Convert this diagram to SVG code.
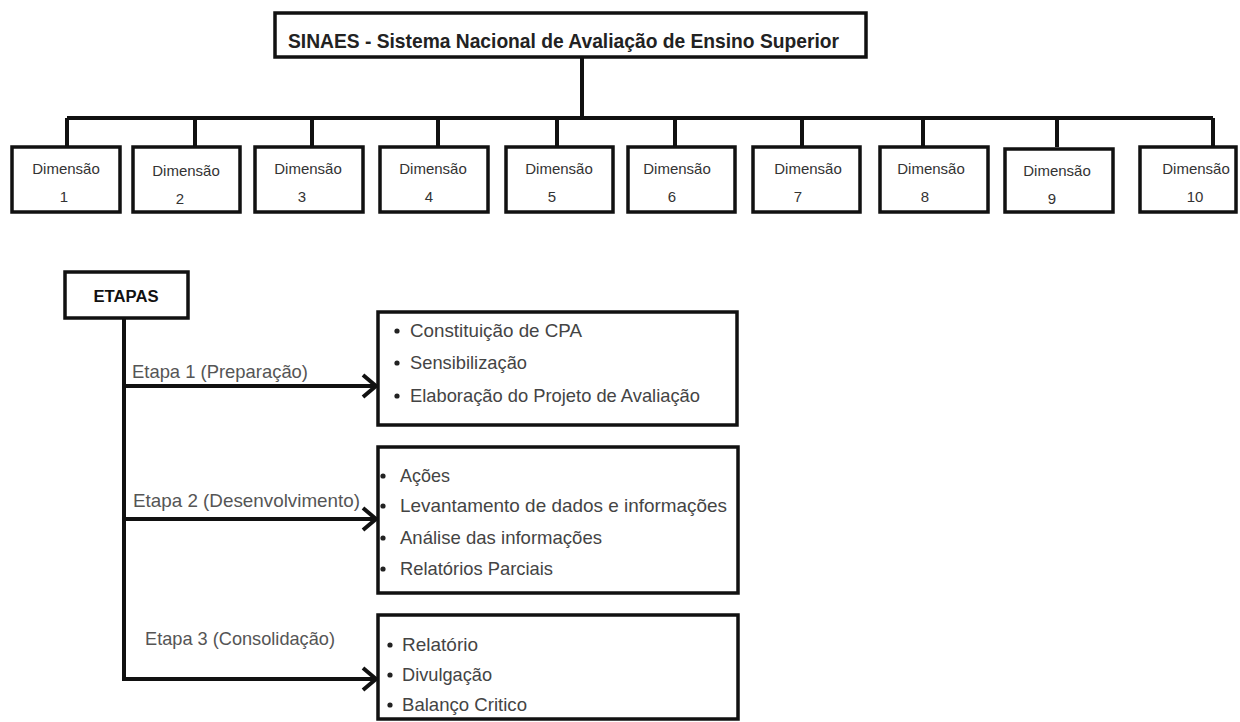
<svg xmlns="http://www.w3.org/2000/svg" width="1240" height="722" viewBox="0 0 1240 722">
<style>
.box{fill:#fff;stroke:#111;stroke-width:3.5}
.con{fill:none;stroke:#111;stroke-width:4}
.title{font-family:"Liberation Sans",Arial,sans-serif;font-size:21px;font-weight:bold;fill:#222}
.dim{font-family:"Liberation Sans",Arial,sans-serif;font-size:15px;fill:#333;text-anchor:middle}
.lab{font-family:"Liberation Sans",Arial,sans-serif;font-size:19px;fill:#555}
.bt{font-family:"Liberation Sans",Arial,sans-serif;font-size:19px;fill:#444}
.et{font-family:"Liberation Sans",Arial,sans-serif;font-size:16px;font-weight:bold;fill:#111;text-anchor:middle}
.bul{fill:#222}
</style>
<defs>
<marker id="arr" markerUnits="userSpaceOnUse" markerWidth="20" markerHeight="26" viewBox="0 0 20 26" refX="16" refY="13" orient="auto">
<path d="M3,2 L16,13 L3,24" fill="none" stroke="#111" stroke-width="4" stroke-linejoin="miter"/>
</marker>
</defs>
<rect width="1240" height="722" fill="#fff"/>
<g id="connectors">
<path class="con" d="M582,57 V118 M67,118 H1213 M67,118 V147 M195,118 V147 M312,118 V147 M438,118 V147 M557,118 V147 M675,118 V147 M802,118 V147 M923,118 V147 M1057,118 V147 M1213,118 V147"/>
<path class="con" d="M124,318 V679"/>
<path class="con" d="M122,386 H376" marker-end="url(#arr)"/>
<path class="con" d="M122,519 H376" marker-end="url(#arr)"/>
<path class="con" d="M122,679 H376" marker-end="url(#arr)"/>
<text class="lab" x="132" y="378" textLength="176" lengthAdjust="spacingAndGlyphs">Etapa 1 (Preparação)</text>
<text class="lab" x="133" y="507" textLength="227" lengthAdjust="spacingAndGlyphs">Etapa 2 (Desenvolvimento)</text>
<text class="lab" x="145" y="645" textLength="190" lengthAdjust="spacingAndGlyphs">Etapa 3 (Consolidação)</text>
</g>
<g id="sinaes">
<rect class="box" x="275" y="13" width="591" height="44"/>
<text class="title" x="288" y="48" textLength="551" lengthAdjust="spacingAndGlyphs">SINAES - Sistema Nacional de Avaliação de Ensino Superior</text>
</g>
<g id="dim1"><rect class="box" x="12" y="147" width="108" height="65"/><text class="dim" x="66" y="174">Dimensão</text><text class="dim" x="64" y="202">1</text></g>
<g id="dim2"><rect class="box" x="133" y="147" width="107" height="65"/><text class="dim" x="186" y="176">Dimensão</text><text class="dim" x="180" y="204">2</text></g>
<g id="dim3"><rect class="box" x="255" y="147" width="108" height="65"/><text class="dim" x="308" y="174">Dimensão</text><text class="dim" x="302" y="202">3</text></g>
<g id="dim4"><rect class="box" x="380" y="147" width="108" height="65"/><text class="dim" x="433" y="174">Dimensão</text><text class="dim" x="429" y="202">4</text></g>
<g id="dim5"><rect class="box" x="506" y="147" width="107" height="65"/><text class="dim" x="559" y="174">Dimensão</text><text class="dim" x="552" y="202">5</text></g>
<g id="dim6"><rect class="box" x="628" y="147" width="107" height="65"/><text class="dim" x="677" y="174">Dimensão</text><text class="dim" x="672" y="202">6</text></g>
<g id="dim7"><rect class="box" x="753" y="147" width="107" height="65"/><text class="dim" x="808" y="174">Dimensão</text><text class="dim" x="798" y="202">7</text></g>
<g id="dim8"><rect class="box" x="880" y="147" width="108" height="65"/><text class="dim" x="931" y="174">Dimensão</text><text class="dim" x="925" y="202">8</text></g>
<g id="dim9"><rect class="box" x="1005" y="149" width="108" height="63"/><text class="dim" x="1057" y="176">Dimensão</text><text class="dim" x="1052" y="204">9</text></g>
<g id="dim10"><rect class="box" x="1140" y="147" width="96" height="65"/><text class="dim" x="1196" y="174">Dimensão</text><text class="dim" x="1195" y="202">10</text></g>
<g id="etapas">
<rect class="box" x="65" y="272" width="123" height="46"/>
<text class="et" x="126" y="302" textLength="65" lengthAdjust="spacingAndGlyphs">ETAPAS</text>
</g>
<g id="etapa1">
<rect class="box" x="378" y="312" width="359" height="113"/>
<circle class="bul" cx="397" cy="331" r="2.6"/><circle class="bul" cx="397" cy="363" r="2.6"/><circle class="bul" cx="397" cy="396" r="2.6"/>
<text class="bt" x="410" y="337" textLength="172" lengthAdjust="spacingAndGlyphs">Constituição de CPA</text>
<text class="bt" x="410" y="369" textLength="117" lengthAdjust="spacingAndGlyphs">Sensibilização</text>
<text class="bt" x="410" y="402" textLength="290" lengthAdjust="spacingAndGlyphs">Elaboração do Projeto de Avaliação</text>
</g>
<g id="etapa2">
<rect class="box" x="378" y="447" width="360" height="146"/>
<circle class="bul" cx="383" cy="476" r="2.6"/><circle class="bul" cx="383" cy="506" r="2.6"/><circle class="bul" cx="383" cy="538" r="2.6"/><circle class="bul" cx="383" cy="569" r="2.6"/>
<text class="bt" x="400" y="482" textLength="50" lengthAdjust="spacingAndGlyphs">Ações</text>
<text class="bt" x="400" y="512" textLength="327" lengthAdjust="spacingAndGlyphs">Levantamento de dados e informações</text>
<text class="bt" x="400" y="544" textLength="202" lengthAdjust="spacingAndGlyphs">Análise das informações</text>
<text class="bt" x="400" y="575" textLength="153" lengthAdjust="spacingAndGlyphs">Relatórios Parciais</text>
</g>
<g id="etapa3">
<rect class="box" x="378" y="615" width="360" height="104"/>
<circle class="bul" cx="390" cy="645" r="2.6"/><circle class="bul" cx="390" cy="675" r="2.6"/><circle class="bul" cx="390" cy="705" r="2.6"/>
<text class="bt" x="402" y="651" textLength="76" lengthAdjust="spacingAndGlyphs">Relatório</text>
<text class="bt" x="402" y="681" textLength="90" lengthAdjust="spacingAndGlyphs">Divulgação</text>
<text class="bt" x="402" y="711" textLength="125" lengthAdjust="spacingAndGlyphs">Balanço Critico</text>
</g>
</svg>
